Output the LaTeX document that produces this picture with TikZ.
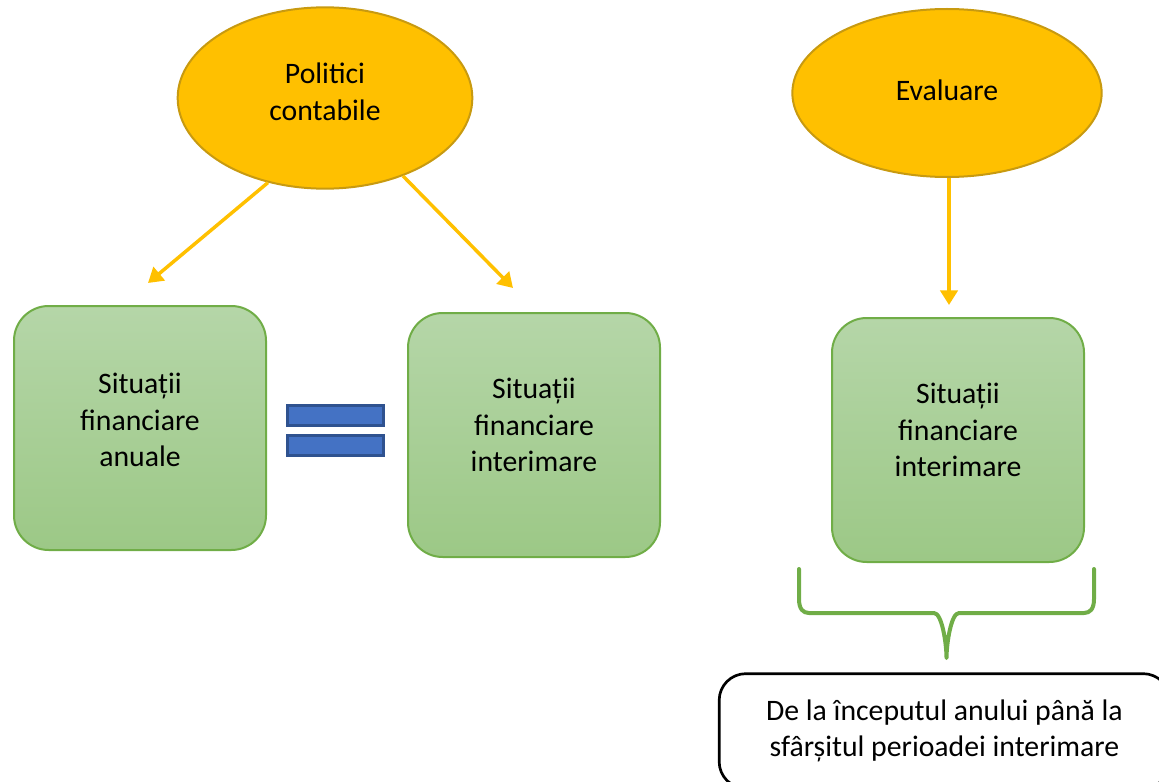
\documentclass[tikz,border=0pt]{standalone}
\usepackage{fontspec}
\setmainfont{Carlito}
\usetikzlibrary{shapes.geometric,arrows.meta}
\definecolor{galben}{HTML}{FFC000}
\definecolor{galbenchis}{HTML}{C89A10}
\definecolor{verde}{HTML}{70AD47}
\definecolor{verdesus}{HTML}{B5D6A8}
\definecolor{verdejos}{HTML}{9CC886}
\definecolor{albastru}{HTML}{4472C4}
\definecolor{albastruchis}{HTML}{2F528F}

\begin{document}
\begin{tikzpicture}[x=0.75pt,y=-0.75pt,
    every node/.style={font=\fontsize{22.3}{27.5}\selectfont, align=center},
    elipsa/.style={ellipse, draw=galbenchis, line width=1.5pt, fill=galben, inner sep=0pt},
    situatie/.style={rectangle, rounded corners=26pt, draw=verde, line width=1.5pt,
        top color=verdesus, bottom color=verdejos, minimum width=189pt, minimum height=183pt,
        inner sep=0pt, text depth=15pt},
    egal/.style={rectangle, draw=albastruchis, line width=2pt, fill=albastru,
        minimum width=72pt, minimum height=15pt, inner sep=0pt},
    sageata/.style={draw=galben, line width=2.6pt, -{Triangle[length=11pt,width=13pt]}}]
    \useasboundingbox (0,0) rectangle (1159,781);
    \clip (0,0) rectangle (1159,781);

    \node[elipsa, minimum width=221pt, minimum height=136pt, text depth=9pt] (pc) at (325,98) {Politici\\contabile};
    \node[elipsa, minimum width=232pt, minimum height=126pt, text depth=4.5pt] (ev) at (947,93) {Evaluare};

    \node[situatie, text depth=12pt] (sfa) at (140,428) {Situații\\financiare\\anuale};
    \node[situatie] (sfi) at (534,435) {Situații\\financiare\\interimare};
    \node[situatie] (sfe) at (958,440) {Situații\\financiare\\interimare};

    \node[egal] (e1) at (335.5,415.5) {};
    \node[egal] (e2) at (335.5,445.5) {};

    \coordinate (t1) at (148,283);
    \coordinate (t2) at (513,288);
    \coordinate (t3) at (949,305);
    \draw[sageata] (pc.236) -- (t1);
    \draw[sageata] (pc.315) -- (t2);
    \draw[sageata] (ev.south -| t3) -- (t3);

    \coordinate (ac) at (946.5,658);
    \draw[verde, line width=3pt, line cap=round, line join=round]
        (799,569) -- ++(0,30) .. controls +(0,10) and +(-6,0) .. (809,613)
        -- (934,613) .. controls +(8,0) and +(0,-14) .. (ac)
        .. controls +(0,-14) and +(-8,0) .. (959,613)
        -- (1084,613) .. controls +(6,0) and +(0,10) .. (1094,599) -- (1094,569);

    \node[rectangle, rounded corners=20pt, draw=black, line width=2pt, minimum width=338pt,
        minimum height=86pt, inner sep=0pt] (per) at (944.5,731)
        {De la începutul anului până la\\sfârșitul perioadei interimare};
\end{tikzpicture}
\end{document}
